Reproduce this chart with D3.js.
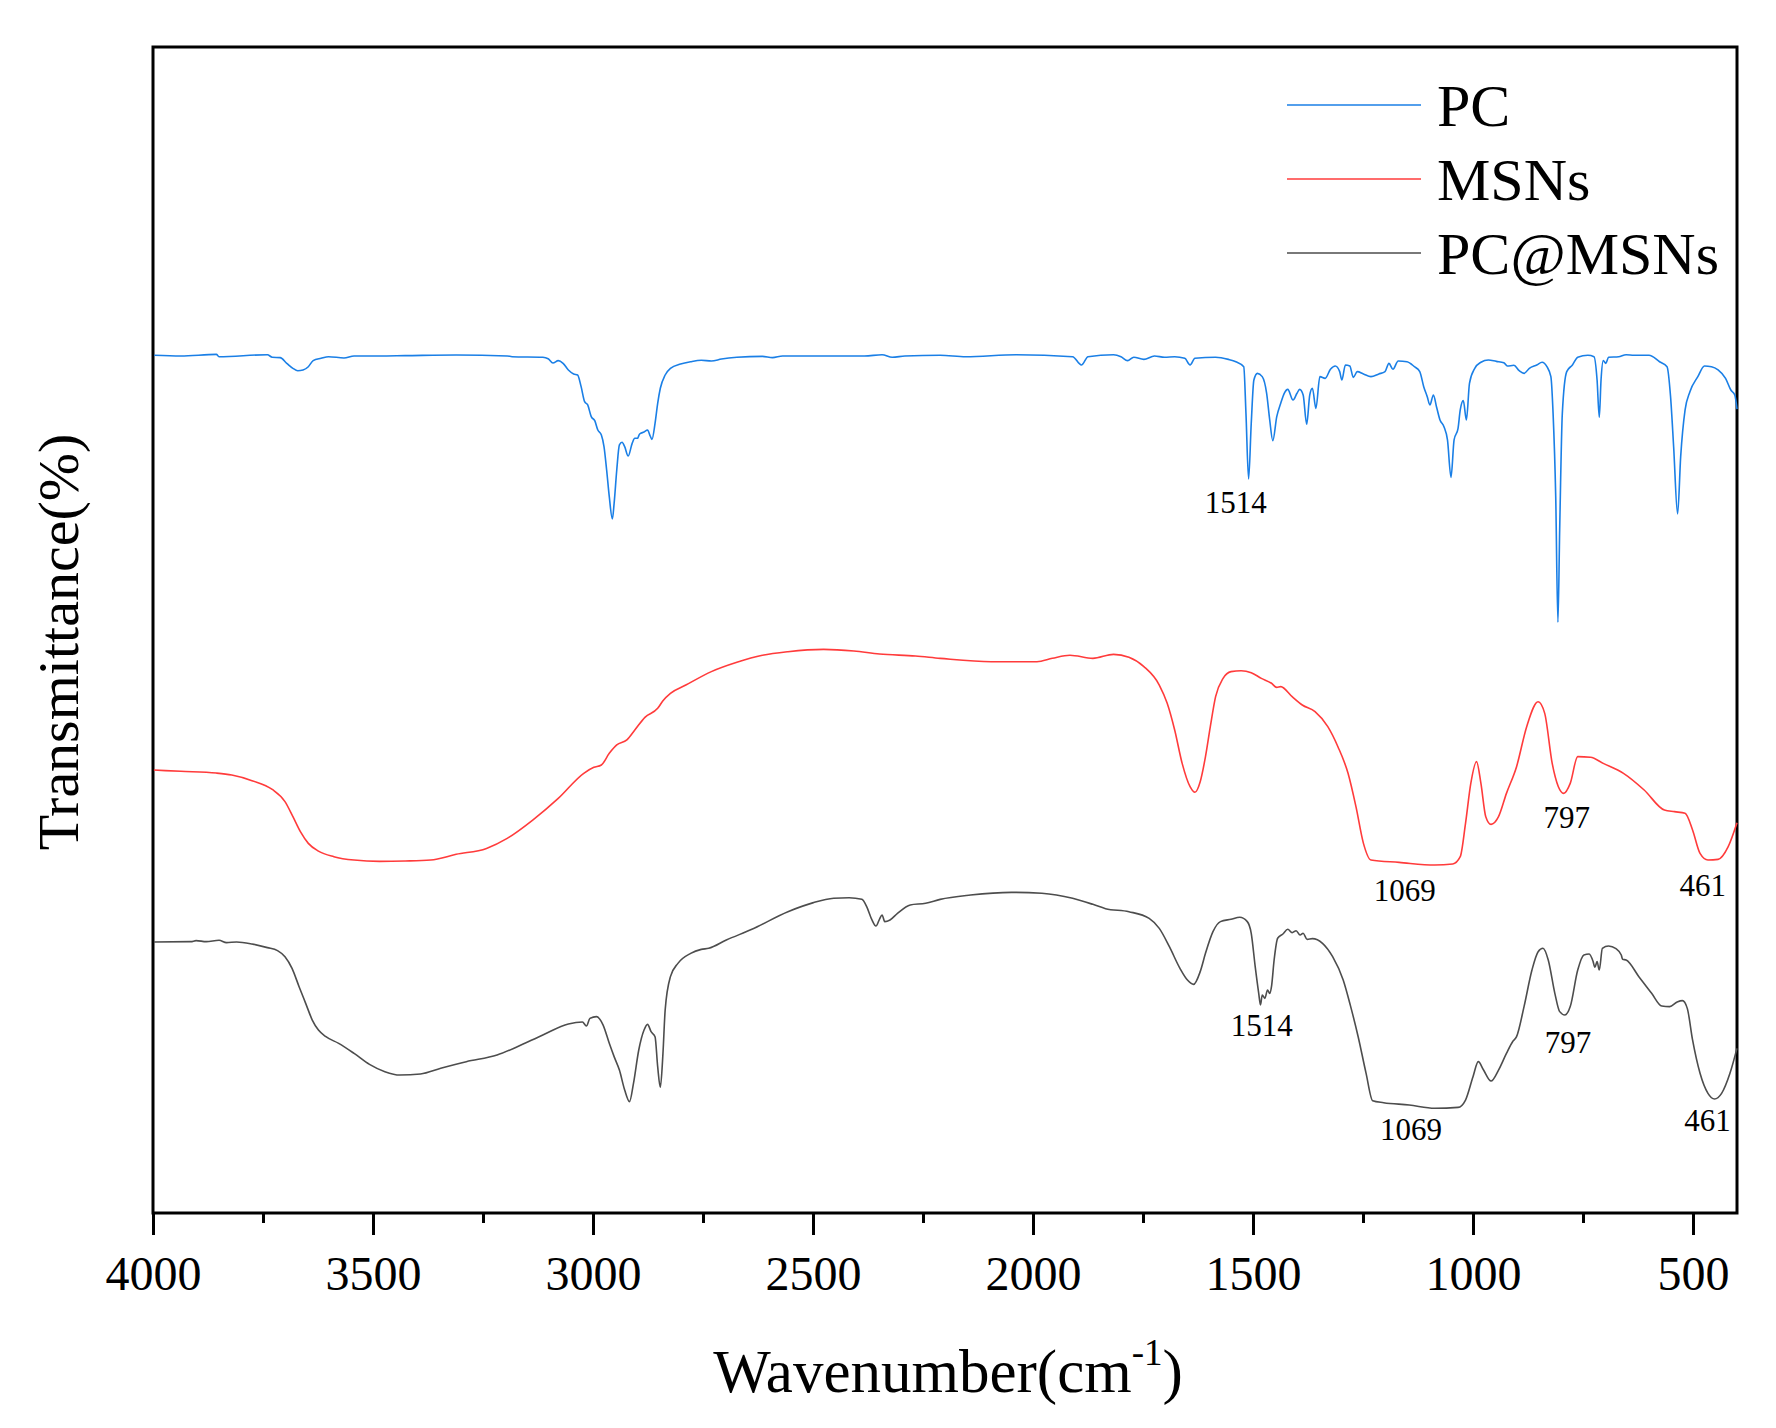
<!DOCTYPE html>
<html>
<head>
<meta charset="utf-8">
<script src="https://cdn.jsdelivr.net/npm/d3@7"></script>
<style>
  body { margin: 0; background: #fff; }
  svg text { font-family: "Liberation Serif", "Times New Roman", serif; fill: #000; }
</style>
</head>
<body>
<div id="chart"></div>
<script>
// spectra: [wavenumber, transmittance (offset, a.u.)]
var seriesNames = ["PC", "MSNs", "PC@MSNs"];
var seriesColors = ["#1a7fe6", "#ff3b3b", "#4d4d4d"];

var pcData = [[3997,73.56],[3937,73.50],[3856,73.64],[3850,73.44],[3740,73.61],[3729,73.39],[3711,73.36],[3696,72.87],[3682,72.44],[3671,72.24],[3659,72.30],[3647,72.58],[3636,73.10],[3618,73.30],[3601,73.44],[3566,73.33],[3543,73.50],[3485,73.50],[3427,73.53],[3311,73.59],[3195,73.50],[3184,73.44],[3114,73.39],[3102,73.27],[3091,72.90],[3079,73.10],[3068,72.87],[3056,72.30],[3044,71.96],[3035,71.87],[3027,70.87],[3019,69.58],[3012,69.30],[3004,68.30],[2996,67.95],[2989,67.15],[2981,66.72],[2975,65.72],[2969,63.72],[2963,61.44],[2956,59.52],[2952,60.86],[2946,63.72],[2940,65.87],[2934,66.10],[2928,65.72],[2920,64.92],[2911,66.01],[2905,66.44],[2899,66.44],[2894,66.81],[2884,66.98],[2876,67.15],[2870,66.64],[2866,66.35],[2859,67.72],[2853,69.44],[2847,70.73],[2836,71.87],[2824,72.44],[2801,72.81],[2778,73.01],[2754,73.13],[2731,73.07],[2708,73.24],[2673,73.39],[2615,73.47],[2592,73.36],[2569,73.50],[2499,73.50],[2383,73.50],[2343,73.61],[2320,73.39],[2291,73.50],
  [2211,73.56],[2153,73.44],[2038,73.61],[1910,73.44],[1890,72.73],[1875,73.44],[1817,73.61],[1800,73.44],[1785,73.10],[1771,73.39],[1748,73.21],[1724,73.50],[1701,73.39],[1678,73.44],[1655,73.30],[1643,72.73],[1632,73.30],[1585,73.39],[1556,73.21],[1539,73.01],[1521,72.58],[1516,68.58],[1510,62.95],[1504,67.72],[1498,71.44],[1490,72.01],[1479,71.73],[1469,70.30],[1462,68.01],[1455,66.24],[1446,68.30],[1437,69.44],[1429,70.30],[1421,70.64],[1409,69.73],[1400,70.30],[1394,70.64],[1386,70.16],[1378,67.64],[1371,70.16],[1365,70.73],[1357,69.01],[1348,71.73],[1336,71.58],[1324,72.36],[1313,72.64],[1303,72.16],[1298,71.44],[1290,72.73],[1280,72.64],[1272,71.67],[1263,72.16],[1249,71.96],[1232,71.73],[1214,71.96],[1200,72.16],[1191,72.87],[1182,72.36],[1170,73.07],[1150,73.01],[1133,72.58],[1121,72.16],[1112,70.87],[1104,70.01],[1098,69.30],[1090,70.16],[1083,69.15],[1075,68.01],[1066,67.44],[1058,66.30],[1050,63.09],[1043,66.30],[1034,67.30],[1029,68.87],[1022,69.67],[1015,68.01],[1008,71.16],[996,72.44],[982,72.96],[965,73.16],[947,73.04],[930,72.93],[922,72.64],[907,72.70],[895,72.24],[884,72.01],[872,72.44],[855,72.73],[843,72.96],[832,72.58],[823,71.73],[818,68.58],[812,61.44],[807,50.66],[803,58.58],[797,68.58],[787,72.16],[774,72.73],[762,73.39],[739,73.56],[725,73.44],[718,71.44],[713,68.24],[709,71.44],[704,73.10],[698,72.87],[692,73.39],[669,73.44],[652,73.61],[634,73.56],[600,73.56],[576,73.01],[559,72.58],[551,70.01],[544,65.72],[535,59.95],[528,64.87],[518,68.87],[507,70.44],[489,71.73],[474,72.64],[458,72.58],[443,72.30],[426,71.58],[414,70.58],[405,70.16],[400,68.95]];

var msnData = [[3998,37.99],[3937,37.88],[3856,37.73],[3821,37.56],[3775,37.08],[3729,36.33],[3700,35.28],[3682,33.99],[3665,32.70],[3647,31.70],[3624,31.04],[3589,30.56],[3543,30.27],[3485,30.16],[3427,30.19],[3369,30.27],[3311,30.76],[3242,31.27],[3195,32.13],[3137,33.70],[3079,35.56],[3021,37.71],[2998,38.22],[2981,38.42],[2963,39.42],[2946,40.14],[2923,40.57],[2905,41.42],[2882,42.51],[2853,43.28],[2841,43.94],[2824,44.57],[2789,45.28],[2731,46.43],[2673,47.23],[2615,47.83],[2557,48.14],[2476,48.34],[2407,48.20],[2349,47.94],[2267,47.77],
  [2211,47.57],[2095,47.28],[1991,47.28],[1956,47.57],[1916,47.83],[1864,47.57],[1817,47.91],[1782,47.66],[1748,46.86],[1713,45.28],[1695,43.71],[1678,41.42],[1661,38.56],[1643,36.56],[1632,36.08],[1620,36.99],[1608,39.14],[1597,41.71],[1585,44.28],[1568,45.85],[1550,46.43],[1527,46.51],[1504,46.34],[1481,45.85],[1458,45.43],[1446,45.08],[1437,45.14],[1411,44.28],[1388,43.57],[1359,43.00],[1330,41.71],[1307,39.99],[1284,37.71],[1266,34.85],[1249,31.70],[1232,30.27],[1168,30.07],[1087,29.84],[1046,29.93],[1029,30.56],[1017,33.42],[1005,36.85],[992,38.71],[982,36.85],[971,33.99],[959,33.33],[942,33.99],[924,35.99],[901,38.28],[878,41.71],[852,43.85],[837,42.85],[820,38.56],[806,36.56],[794,35.99],[779,36.85],[762,39.14],[733,39.08],[704,38.56],[658,37.71],[611,36.28],[565,34.56],[542,34.42],[518,34.28],[501,32.85],[484,30.84],[466,30.27],[443,30.33],[420,31.42],[400,33.47]];

var pcMsnData = [[3998,23.24],[3914,23.27],[3902,23.36],[3879,23.27],[3850,23.39],[3833,23.19],[3810,23.24],[3775,23.07],[3740,22.76],[3717,22.50],[3700,21.98],[3684,20.98],[3668,19.41],[3653,17.98],[3638,16.55],[3624,15.69],[3607,15.12],[3578,14.55],[3543,13.69],[3508,12.75],[3473,12.12],[3439,11.83],[3392,11.92],[3346,12.41],[3288,12.98],[3218,13.55],[3172,14.26],[3114,15.27],[3056,16.21],[3024,16.38],[3015,16.04],[3007,16.69],[2992,16.84],[2977,16.12],[2963,14.55],[2952,13.41],[2940,12.26],[2928,10.55],[2917,9.55],[2908,11.12],[2896,13.98],[2884,15.69],[2876,16.18],[2868,15.55],[2859,15.12],[2853,12.55],[2847,10.78],[2841,13.69],[2836,17.41],[2824,20.27],[2807,21.41],[2778,22.27],[2754,22.61],[2737,22.70],[2697,23.41],[2639,24.33],[2557,25.84],[2499,26.62],[2453,26.99],[2418,27.04],[2389,26.90],[2378,26.27],[2366,25.13],[2357,24.61],[2349,25.19],[2343,25.56],[2337,24.99],[2325,25.13],[2308,25.70],[2279,26.42],[2244,26.56],
  [2211,26.90],[2142,27.27],[2049,27.50],[1980,27.42],[1910,26.99],[1864,26.47],[1835,26.10],[1782,25.84],[1736,25.27],[1713,24.41],[1690,22.84],[1666,20.98],[1649,19.98],[1635,19.61],[1620,20.70],[1608,22.27],[1591,24.13],[1574,24.99],[1550,25.19],[1530,25.36],[1513,24.99],[1504,23.99],[1495,21.13],[1487,18.84],[1483,17.84],[1479,18.70],[1473,18.41],[1467,19.13],[1462,18.84],[1458,19.41],[1452,21.70],[1444,23.56],[1432,23.93],[1421,24.33],[1411,24.04],[1402,24.21],[1393,23.84],[1386,23.99],[1377,23.47],[1365,23.53],[1342,23.13],[1319,21.98],[1295,19.98],[1278,17.70],[1261,15.12],[1243,11.98],[1228,9.63],[1203,9.46],[1145,9.26],[1087,8.98],[1034,9.06],[1017,9.69],[1000,11.69],[988,12.98],[976,12.26],[959,11.32],[942,12.26],[924,13.69],[910,14.69],[901,15.12],[884,17.70],[866,20.84],[852,22.41],[841,22.70],[829,21.70],[814,18.84],[803,17.27],[791,16.98],[779,17.70],[762,20.84],[748,22.13],[736,22.21],[727,21.56],[723,21.07],[718,21.56],[713,20.84],[706,22.70],[692,22.90],[675,22.67],[663,22.13],[660,21.76],[652,21.70],[623,20.27],[594,18.84],[571,17.75],[553,17.70],[536,18.09],[524,18.21],[513,17.55],[501,14.84],[484,11.98],[466,10.26],[451,9.78],[435,10.26],[416,11.98],[400,14.12]];

// peak labels: [text, wavenumber, value at text baseline]
var peakLabels = [["1514",1539,60.06],["1069",1155,26.78],["797",787,32.99],["461",478,27.19],
                  ["1514",1480,15.21],["797",784,13.70],["1069",1141,6.26],["461",467,7.04]];

var majorTicks = [4000,3500,3000,2500,2000,1500,1000,500];
var minorTicks = [3750,3250,2750,2250,1750,1250,750];

var svgWidth = 1776, svgHeight = 1428;
var margin = {top: 47, right: 39, bottom: 215, left: 153};
var width = svgWidth - margin.left - margin.right;
var height = svgHeight - margin.top - margin.bottom;

var svg = d3.select("#chart").append("svg")
  .attr("width", svgWidth)
  .attr("height", svgHeight);

var chartGroup = svg.append("g")
  .attr("transform", `translate(${margin.left}, ${margin.top})`);

var xScale = d3.scaleLinear().domain([4000, 400]).range([0, width]);
var yScale = d3.scaleLinear().domain([0, 100]).range([height, 0]);

// minor ticks
chartGroup.append("g")
  .attr("transform", `translate(0, ${height})`)
  .call(d3.axisBottom(xScale).tickValues(minorTicks).tickSize(10).tickFormat(""))
  .call(g => g.select(".domain").remove())
  .call(g => g.selectAll("line").attr("stroke", "#000").attr("stroke-width", 3));

// major ticks + labels
var xAxis = chartGroup.append("g")
  .attr("transform", `translate(0, ${height})`)
  .call(d3.axisBottom(xScale).tickValues(majorTicks).tickSize(22).tickPadding(21).tickFormat(d3.format("d")));
xAxis.select(".domain").remove();
xAxis.selectAll("line").attr("stroke", "#000").attr("stroke-width", 3);
xAxis.selectAll("text")
  .attr("font-size", 48)
  .style("font-family", '"Liberation Serif", "Times New Roman", serif');

// frame
chartGroup.append("rect")
  .attr("width", width)
  .attr("height", height)
  .attr("fill", "none")
  .attr("stroke", "#000")
  .attr("stroke-width", 3);

var line = d3.line()
  .x(d => xScale(d[0]))
  .y(d => yScale(d[1]))
  .curve(d3.curveMonotoneX);

[pcData, msnData, pcMsnData].forEach(function(data, i) {
  chartGroup.append("path")
    .datum(data)
    .attr("fill", "none")
    .attr("stroke", seriesColors[i])
    .attr("stroke-width", 1.6)
    .attr("stroke-linejoin", "round")
    .attr("d", line);
});

chartGroup.selectAll(".peak")
  .data(peakLabels)
  .enter()
  .append("text")
  .attr("class", "peak")
  .attr("x", d => xScale(d[1]))
  .attr("y", d => yScale(d[2]))
  .attr("text-anchor", "middle")
  .attr("font-size", 31)
  .text(d => d[0]);

// legend
var legend = chartGroup.selectAll(".legend")
  .data(seriesNames)
  .enter()
  .append("g")
  .attr("class", "legend")
  .attr("transform", (d, i) => `translate(${1287 - margin.left}, ${105 - margin.top + i * 74})`);

legend.append("line")
  .attr("x1", 0).attr("x2", 134)
  .attr("stroke", (d, i) => seriesColors[i])
  .attr("stroke-width", 1.6);

legend.append("text")
  .attr("x", 150)
  .attr("y", 21)
  .attr("font-size", 60)
  .text(d => d);

// axis titles
var xTitle = svg.append("text")
  .attr("x", margin.left + width / 2 + 3)
  .attr("y", 1392)
  .attr("text-anchor", "middle")
  .attr("font-size", 61);
xTitle.append("tspan").text("Wavenumber(cm");
xTitle.append("tspan").attr("font-size", 37).attr("dy", -27).text("-1");
xTitle.append("tspan").attr("dy", 27).text(")");

svg.append("text")
  .attr("transform", `translate(78, ${margin.top + height / 2 + 12}) rotate(-90)`)
  .attr("text-anchor", "middle")
  .attr("font-size", 58)
  .text("Transmittance(%)");
</script>
</body>
</html>
